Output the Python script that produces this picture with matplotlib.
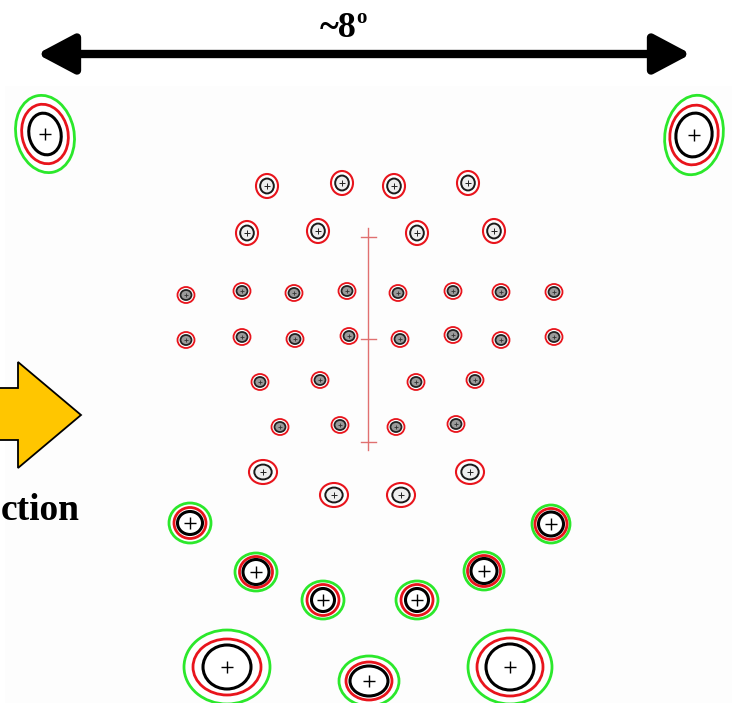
import matplotlib
matplotlib.use("Agg")
import matplotlib.pyplot as plt
from matplotlib.patches import Ellipse, Polygon, FancyArrowPatch, Rectangle

# small spots, grey core (rows 3-6)
core_x = [186, 242, 294, 347, 398, 453, 501, 554,
          186, 242, 295, 349, 400, 453, 501, 554,
          260, 320, 416, 475,
          280, 340, 396, 456]
core_y = [295, 291, 293, 291, 293, 291, 292, 292,
          340, 337, 339, 336, 339, 335, 340, 337,
          382, 380, 382, 380,
          427, 425, 427, 424]

# medium spots, open core (rows 1, 2 and 7)
open_x = [267, 342, 394, 468, 247, 318, 417, 494, 263, 470, 334, 401]
open_y = [186, 183, 186, 183, 233, 231, 233, 231, 472, 472, 495, 495]
open_red_w = [22, 22, 22, 22, 22, 22, 22, 22, 28, 28, 28, 28]
open_red_h = [24, 24, 24, 24, 24, 24, 24, 24, 24, 24, 24, 24]

# bright spots with three contour levels (black / red / green)
bright_x = [45, 694, 190, 551, 256, 484, 323, 417, 227, 369, 510]
bright_y = [134, 135, 523, 524, 572, 571, 600, 600, 667, 681, 667]
black_w = [32, 36, 25, 25, 26, 26, 23, 23, 48, 38, 48]
black_h = [42, 44, 23, 24, 25, 25, 23, 23, 44, 30, 46]
red_w = [46, 48, 32, 32, 33, 33, 32, 32, 68, 46, 66]
red_h = [60, 60, 31, 31, 31, 31, 31, 31, 56, 38, 58]
green_w = [58, 58, 42, 38, 42, 40, 42, 42, 86, 60, 84]
green_h = [78, 80, 40, 38, 38, 38, 38, 38, 74, 50, 74]
tilt = [-12, 10, 0, 0, 0, 0, 0, 0, 0, 0, 0]
cross_size = [9, 9, 9, 9, 9, 9, 9, 9, 9, 9, 8]

# scale bar ticks
bar_x = 368
bar_ticks = [237, 339, 442]

RED = "#e8141c"
GREEN = "#2be82b"

fig = plt.figure(figsize=(7.32, 7.03), dpi=100)
ax = fig.add_axes([0, 0, 1, 1])
ax.set_xlim(0, 732)
ax.set_ylim(703, 0)
ax.axis("off")

# faint image panel
ax.add_patch(Rectangle((5, 86), 727, 617, facecolor="#fdfdfd", edgecolor="none", zorder=0))

# width arrow and label
ax.add_patch(FancyArrowPatch((37, 54), (691, 54), arrowstyle="<|-|>,head_length=1.6,head_width=0.85",
                             color="black", lw=6, mutation_scale=14, shrinkA=0, shrinkB=0))
ax.text(338, 37, "~8", fontsize=26, fontweight="bold", family="Liberation Serif",
        ha="center", va="baseline")
ax.text(361, 23, "o", fontsize=15, fontweight="bold", family="Liberation Serif",
        ha="center", va="baseline")

# yellow direction arrow (cut at left edge)
ax.add_patch(Polygon([(-5, 388), (18, 388), (18, 362), (81, 415), (18, 468), (18, 440), (-5, 440)],
                     closed=True, facecolor="#ffc600", edgecolor="black", lw=1.3, zorder=3))
ax.text(1, 520, "ction", fontsize=27, fontweight="bold", family="Liberation Serif",
        ha="left", va="baseline")

# scale bar
ax.plot([bar_x, bar_x], [228, 450], color="#e07070", lw=1.0)
for ty in bar_ticks:
    ax.plot([bar_x - 7, bar_x + 8], [ty, ty], color="#e07070", lw=1.0)

# grey-core spots
for x, y in zip(core_x, core_y):
    ax.add_patch(Ellipse((x, y), 17, 16, facecolor="white", edgecolor=RED, lw=1.3, zorder=4))
    ax.add_patch(Ellipse((x, y), 11, 10, facecolor="#9a9a9a", edgecolor="#222222", lw=1.3, zorder=5))
    ax.plot(x, y, marker="+", color="#333333", ms=3, mew=0.6, zorder=6)

# open spots
for x, y, rw, rh in zip(open_x, open_y, open_red_w, open_red_h):
    ax.add_patch(Ellipse((x, y), rw, rh, facecolor="white", edgecolor=RED, lw=1.5, zorder=4))
    ax.add_patch(Ellipse((x, y), rw * 0.62, rh * 0.62, facecolor="#eeeeee", edgecolor="#1a1a1a",
                         lw=1.4, zorder=5))
    ax.plot(x, y, marker="+", color="#222222", ms=4, mew=0.7, zorder=6)

# bright spots
for i in range(len(bright_x)):
    c = (bright_x[i], bright_y[i])
    ax.add_patch(Ellipse(c, green_w[i], green_h[i], angle=tilt[i], facecolor="white",
                         edgecolor=GREEN, lw=2.0, zorder=4))
    ax.add_patch(Ellipse(c, red_w[i], red_h[i], angle=tilt[i], facecolor="none",
                         edgecolor=RED, lw=2.0, zorder=5))
    ax.add_patch(Ellipse(c, black_w[i], black_h[i], angle=tilt[i], facecolor="none",
                         edgecolor="black", lw=2.2, zorder=6))
    ax.plot(*c, marker="+", color="black", ms=cross_size[i], mew=1.0, zorder=7)

fig.savefig("out.png", dpi=100, facecolor="white")
